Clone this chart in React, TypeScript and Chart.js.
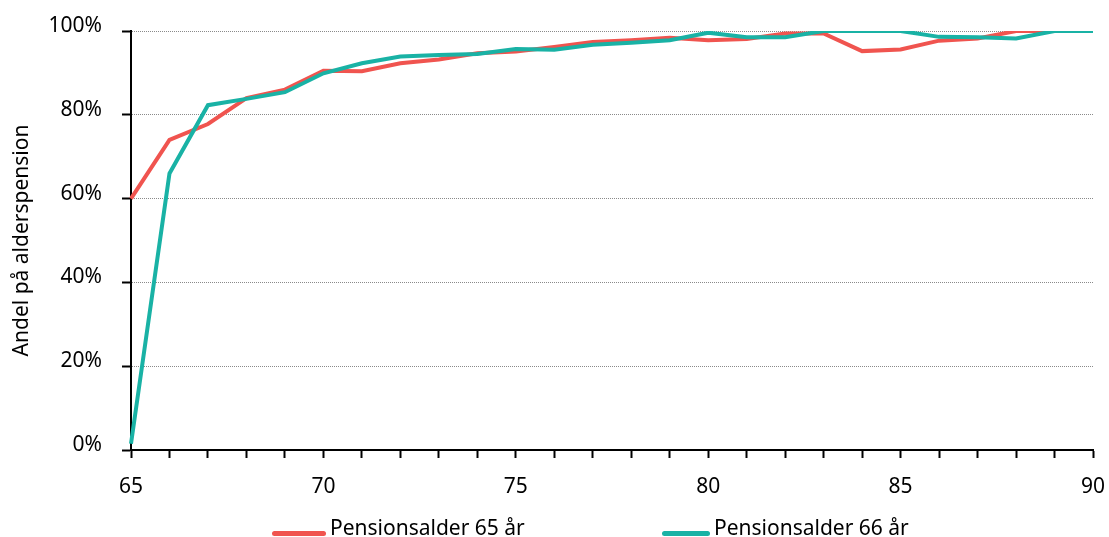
import React, { useEffect, useRef } from 'react';
import { Chart, registerables } from 'chart.js';

Chart.register(...registerables);

const ages = ['65', '66', '67', '68', '69', '70', '71', '72', '73', '74', '75', '76', '77', '78', '79', '80', '81', '82', '83', '84', '85', '86', '87', '88', '89', '90'];
const pension65 = [60, 74, 77.8, 84, 86, 90.5, 90.4, 92.3, 93.2, 94.7, 95.1, 96.2, 97.4, 97.8, 98.4, 97.8, 98.1, 99.4, 99.4, 95.2, 95.6, 97.7, 98.2, 100, 100, 100];
const pension66 = [1.5, 66, 82.3, 83.8, 85.4, 89.9, 92.3, 93.9, 94.3, 94.5, 95.7, 95.5, 96.7, 97.2, 97.8, 99.6, 98.5, 98.5, 100, 100, 100, 98.6, 98.5, 98.2, 100, 100];
const seriesLabels = ['Pensionsalder 65 år', 'Pensionsalder 66 år'];
const seriesColors = ['#F0544F', '#19B2A5'];
const yTitle = 'Andel på alderspension';
const yMin = 0;
const yMax = 100;
const yStep = 20;
const xLabelEvery = 5;

const FONT = '"Noto Sans", sans-serif';
const FONT_SIZE = 21;

const legendPlugin = {
  id: 'bottomLegend',
  afterDraw(chart: any, _args: any, opts: any) {
    const ctx = chart.ctx;
    ctx.save();
    ctx.font = `${FONT_SIZE}px ${FONT}`;
    ctx.textBaseline = 'alphabetic';
    ctx.textAlign = 'left';
    const starts: number[] = opts.starts;
    const lens: number[] = opts.lens;
    const y = opts.y;
    seriesLabels.forEach((label, i) => {
      const x0 = starts[i];
      ctx.strokeStyle = seriesColors[i];
      ctx.lineWidth = 5;
      ctx.lineCap = 'round';
      ctx.beginPath();
      ctx.moveTo(x0 + 2.5, y);
      ctx.lineTo(x0 + lens[i] - 2.5, y);
      ctx.stroke();
      ctx.fillStyle = '#000';
      ctx.fillText(label, x0 + lens[i] + 4, y + 1);
    });
    ctx.restore();
  },
};

export default function App() {
  const ref = useRef<HTMLCanvasElement | null>(null);
  useEffect(() => {
    document.body.style.margin = '0';
    const canvas = ref.current;
    if (!canvas) return;
    const chart = new Chart(canvas, {
      type: 'line',
      data: {
        labels: ages,
        datasets: [
          {
            label: seriesLabels[0],
            data: pension65,
            borderColor: seriesColors[0],
            backgroundColor: seriesColors[0],
            borderWidth: 4,
            pointRadius: 0,
            tension: 0,
            order: 2,
          },
          {
            label: seriesLabels[1],
            data: pension66,
            borderColor: seriesColors[1],
            backgroundColor: seriesColors[1],
            borderWidth: 4,
            pointRadius: 0,
            tension: 0,
            order: 1,
          },
        ],
      },
      options: {
        responsive: false,
        animation: false,
        devicePixelRatio: 1,
        layout: { padding: { top: 31, right: 16, left: 0, bottom: 0 } },
        plugins: {
          legend: { display: false },
          tooltip: { enabled: false },
          bottomLegend: { starts: [272, 662], lens: [54, 48], y: 533.5 },
        } as any,
        scales: {
          x: {
            type: 'category',
            offset: false,
            grid: {
              display: true,
              drawOnChartArea: false,
              drawTicks: true,
              tickLength: 8,
              tickColor: '#000',
              tickWidth: 2,
              offset: false,
            },
            border: { display: true, color: '#000', width: 2 },
            ticks: {
              autoSkip: false,
              maxRotation: 0,
              padding: 16,
              color: '#000',
              font: { family: FONT, size: FONT_SIZE },
              callback: (_v: any, idx: number) => (Number(ages[idx]) % xLabelEvery === 0 ? ages[idx] : ''),
            },
            afterFit: (scale: any) => {
              scale.height = 87;
              scale.paddingLeft = 0;
              scale.paddingRight = 0;
            },
          },
          y: {
            min: yMin,
            max: yMax,
            grid: {
              color: (c: any) => (c.tick && c.tick.value === 0 ? 'rgba(0,0,0,0)' : '#8a8a8a'),
              lineWidth: 1,
              drawTicks: true,
              tickLength: 9,
              tickColor: '#000',
              tickWidth: 2,
            },
            border: { display: true, color: '#000', width: 2, dash: [1, 1] },
            ticks: {
              stepSize: yStep,
              padding: 20,
              labelOffset: -5,
              color: '#000',
              font: { family: FONT, size: FONT_SIZE },
              callback: (v: any) => `${v}%`,
            },
            title: {
              display: true,
              text: yTitle,
              color: '#000',
              font: { family: FONT, size: FONT_SIZE },
              padding: { top: 9, bottom: 0 },
            },
            afterFit: (scale: any) => {
              scale.width = 131;
              scale.paddingTop = 0;
              scale.paddingBottom = 0;
            },
          },
        },
      },
      plugins: [legendPlugin],
    } as any);
    return () => chart.destroy();
  }, []);
  return (
    <div style={{ width: 1109, height: 537 }}>
      <canvas ref={ref} width={1109} height={537} style={{ display: 'block' }} />
    </div>
  );
}
